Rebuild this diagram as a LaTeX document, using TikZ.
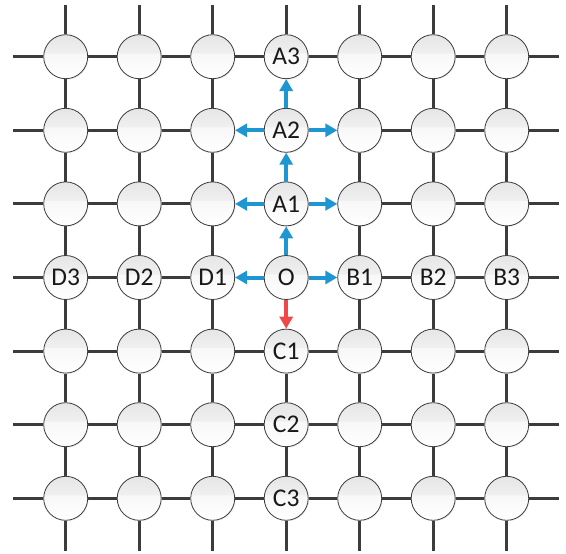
\documentclass[tikz,border=0pt]{standalone}
\usepackage{fontspec}
\setmainfont{Carlito}
\usetikzlibrary{arrows.meta,shadows}
\definecolor{gridc}{HTML}{3C3C3C}
\definecolor{arrb}{HTML}{1E96D2}
\definecolor{arrr}{HTML}{F04848}
\pgfdeclareverticalshading{glossy}{100bp}{color(0bp)=(white);color(25bp)=(white);color(54bp)=(black!3);color(54bp)=(black!6);color(75bp)=(black!10);color(100bp)=(black!10)}
\newcommand\setlbl[3]{\expandafter\def\csname lbl#1-#2\endcsname{#3}}
\setlbl{4}{1}{A3}\setlbl{4}{2}{A2}\setlbl{4}{3}{A1}
\setlbl{1}{4}{D3}\setlbl{2}{4}{D2}\setlbl{3}{4}{D1}\setlbl{4}{4}{O}
\setlbl{5}{4}{B1}\setlbl{6}{4}{B2}\setlbl{7}{4}{B3}
\setlbl{4}{5}{C1}\setlbl{4}{6}{C2}\setlbl{4}{7}{C3}
\begin{document}
\begin{tikzpicture}[x=1pt,y=-1pt,
  cell/.style={circle,draw=gridc,line width=0.8pt,minimum size=44pt,inner sep=0pt,
    shade,shading=glossy,font=\fontsize{25.5}{25.5}\selectfont,text=black!90,
    drop shadow={opacity=0.12,shadow xshift=1pt,shadow yshift=-1pt}},
  gridline/.style={draw=gridc,line width=3pt},
  barrow/.style={draw=arrb,line width=4pt,-{Triangle[length=12pt,width=13pt]}},
  rarrow/.style={draw=arrr,line width=4pt,-{Triangle[length=12pt,width=13pt]}}]
\useasboundingbox[fill=white] (0,0) rectangle (566,554);
% nodes
\foreach \c in {1,...,7}{
  \foreach \r in {1,...,7}{
    \pgfmathsetmacro\xx{65.7+(\c-1)*73.5}
    \pgfmathsetmacro\yy{56.7+(\r-1)*73.6}
    \node[cell] (n\c-\r) at (\xx,\yy) {\csname lbl\c-\r\endcsname};
  }
}
% stub coordinates
\foreach \i in {1,...,7}{
  \pgfmathsetmacro\xx{65.7+(\i-1)*73.5}
  \pgfmathsetmacro\yy{56.7+(\i-1)*73.6}
  \coordinate (tp\i) at (\xx,5);
  \coordinate (bt\i) at (\xx,551);
  \coordinate (lf\i) at (13,\yy);
  \coordinate (rt\i) at (559,\yy);
  \draw[gridline] (tp\i) -- (n\i-1);
  \draw[gridline] (bt\i) -- (n\i-7);
  \draw[gridline] (lf\i) -- (n1-\i);
  \draw[gridline] (rt\i) -- (n7-\i);
}
% horizontal segments
\foreach \r in {1,...,7}{
  \foreach \c in {1,...,6}{
    \pgfmathtruncatemacro\nc{\c+1}
    \pgfmathtruncatemacro\skipit{((\r>1)&&(\r<5)&&((\c==3)||(\c==4)))?1:0}
    \ifnum\skipit=0 \draw[gridline] (n\c-\r) -- (n\nc-\r);\fi
  }
}
% vertical segments
\foreach \c in {1,...,7}{
  \foreach \r in {1,...,6}{
    \pgfmathtruncatemacro\nr{\r+1}
    \pgfmathtruncatemacro\skipit{((\c==4)&&(\r<5))?1:0}
    \ifnum\skipit=0 \draw[gridline] (n\c-\r) -- (n\c-\nr);\fi
  }
}
% arrows
\draw[barrow] (n4-4) -- (n4-3);
\draw[barrow] (n4-3) -- (n4-2);
\draw[barrow] (n4-2) -- (n4-1);
\draw[barrow] (n4-4) -- (n3-4);
\draw[barrow] (n4-4) -- (n5-4);
\draw[barrow] (n4-3) -- (n3-3);
\draw[barrow] (n4-3) -- (n5-3);
\draw[barrow] (n4-2) -- (n3-2);
\draw[barrow] (n4-2) -- (n5-2);
\draw[rarrow] (n4-4) -- (n4-5);
\end{tikzpicture}
\end{document}
